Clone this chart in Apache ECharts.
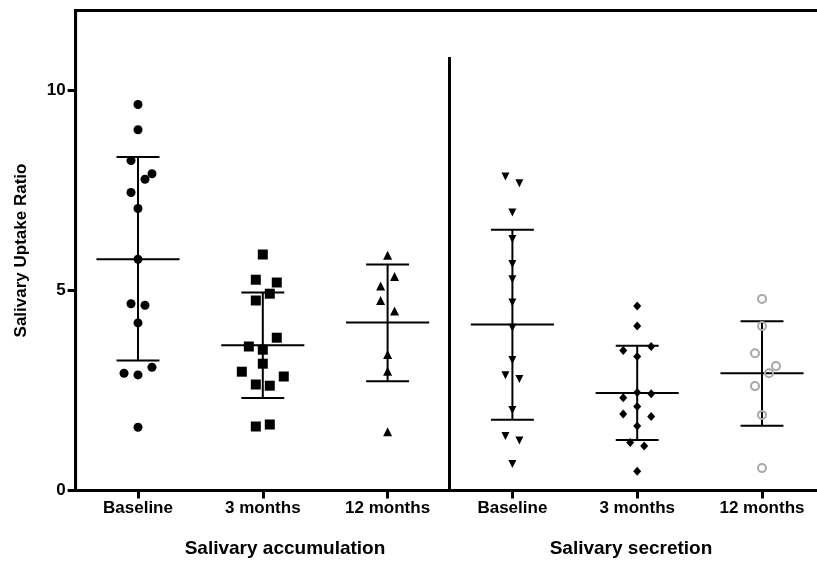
<!DOCTYPE html>
<html>
<head>
<meta charset="utf-8">
<script src="https://cdn.jsdelivr.net/npm/echarts@6/dist/echarts.min.js"></script>
<style>
html,body{margin:0;padding:0;background:#fff;}
#main{width:817px;height:561px;}
</style>
</head>
<body>
<div id="main"></div>
<script>
// ---------- data ----------
const categories = ['Baseline', '3 months', '12 months', 'Baseline', '3 months', '12 months'];
const groupTitles = ['Salivary accumulation', 'Salivary secretion'];
const yTitle = 'Salivary Uptake Ratio';
const yTicks = [0, 5, 10];

// individual values (and their horizontal jitter slot, -3..3)
const accBaseline     = [9.65, 9.02, 8.25, 7.92, 7.78, 7.45, 7.05, 5.78, 4.67, 4.63, 4.19, 3.08, 2.93, 2.89, 1.58];
const accBaselineSlot = [0, 0, -1, 2, 1, -1, 0, 0, -1, 1, 0, 2, -2, 0, 0];
const acc3m           = [5.90, 5.27, 5.20, 4.92, 4.75, 3.82, 3.60, 3.52, 3.17, 2.97, 2.85, 2.65, 2.62, 1.65, 1.60];
const acc3mSlot       = [0, -1, 2, 1, -1, 2, -2, 0, 0, -3, 3, -1, 1, 1, -1];
const acc12m          = [5.88, 5.35, 5.11, 4.75, 4.49, 3.40, 2.98, 1.47];
const acc12mSlot      = [0, 1, -1, -1, 1, 0, 0, 0];
const secBaseline     = [7.85, 7.68, 6.95, 6.29, 5.66, 5.28, 4.70, 4.07, 3.26, 2.88, 2.79, 2.01, 1.36, 1.25, 0.66];
const secBaselineSlot = [-1, 1, 0, 0, 0, 0, 0, 0, 0, -1, 1, 0, -1, 1, 0];
const sec3m           = [4.61, 4.11, 3.60, 3.50, 3.35, 2.45, 2.42, 2.32, 2.10, 1.91, 1.85, 1.61, 1.20, 1.11, 0.48];
const sec3mSlot       = [0, 0, 2, -2, 0, 0, 2, -2, 0, -2, 2, 0, -1, 1, 0];
const sec12m          = [4.79, 4.11, 3.43, 3.11, 2.93, 2.61, 1.89, 0.56];
const sec12mSlot      = [0, 0, -1, 2, 1, -1, 0, 0];

// mean and SD bars
const means   = [5.78, 3.63, 4.20, 4.15, 2.44, 2.93];
const sdUpper = [8.34, 4.95, 5.65, 6.52, 3.62, 4.23];
const sdLower = [3.25, 2.31, 2.73, 1.77, 1.26, 1.62];

// divider between the two panels (x between groups, top value)
const dividerX = 3.49;
const dividerTop = 10.84;

// ---------- styling ----------
const FONT = "'Liberation Sans', Arial, Helvetica, sans-serif";
const JITTER = 0.056;      // category units per jitter slot
const MEAN_HALF = 0.333;   // half-width of mean line (category units)
const CAP_HALF = 0.172;    // half-width of SD caps

function pts(vals, slots, catIndex) {
  return vals.map((v, i) => [catIndex + 1 + slots[i] * JITTER, v]);
}

const groups = [
  { vals: accBaseline, slots: accBaselineSlot, symbol: 'circle', size: 9, filled: true },
  { vals: acc3m, slots: acc3mSlot, symbol: 'rect', size: 10, filled: true },
  { vals: acc12m, slots: acc12mSlot, symbol: 'triangle', size: 9, filled: true },
  { vals: secBaseline, slots: secBaselineSlot, symbol: 'triangle', size: 8, filled: true, rotate: 180 },
  { vals: sec3m, slots: sec3mSlot, symbol: 'diamond', size: [8, 9], filled: true },
  { vals: sec12m, slots: sec12mSlot, symbol: 'circle', size: 8, filled: false }
];

const scatterSeries = groups.map((g, i) => ({
  type: 'scatter',
  xAxisIndex: 1,
  yAxisIndex: 0,
  symbol: g.symbol,
  symbolSize: g.size,
  symbolRotate: g.rotate || 0,
  silent: true,
  z: 5,
  itemStyle: g.filled
    ? { color: '#000', opacity: 1 }
    : { color: 'rgba(0,0,0,0)', borderColor: '#a9a9a9', borderWidth: 2, opacity: 1 },
  data: pts(g.vals, g.slots, i)
}));

const barData = means.map((m, i) => [i + 1, m, sdLower[i], sdUpper[i]]);

const statSeries = {
  type: 'custom',
  xAxisIndex: 1,
  yAxisIndex: 0,
  silent: true,
  z: 3,
  data: barData,
  renderItem: function (params, api) {
    const x = api.value(0);
    const mean = api.coord([x, api.value(1)]);
    const lo = api.coord([x, api.value(2)]);
    const hi = api.coord([x, api.value(3)]);
    const mh = api.size([MEAN_HALF, 0])[0];
    const ch = api.size([CAP_HALF, 0])[0];
    const st = { stroke: '#000', lineWidth: 2 };
    return {
      type: 'group',
      children: [
        { type: 'line', shape: { x1: mean[0] - mh, y1: mean[1], x2: mean[0] + mh, y2: mean[1] }, style: st },
        { type: 'line', shape: { x1: lo[0], y1: lo[1], x2: hi[0], y2: hi[1] }, style: st },
        { type: 'line', shape: { x1: hi[0] - ch, y1: hi[1], x2: hi[0] + ch, y2: hi[1] }, style: st },
        { type: 'line', shape: { x1: lo[0] - ch, y1: lo[1], x2: lo[0] + ch, y2: lo[1] }, style: st }
      ]
    };
  },
  markLine: {
    silent: true,
    symbol: ['none', 'none'],
    label: { show: false },
    lineStyle: { color: '#000', width: 3, type: 'solid' },
    data: [[{ coord: [dividerX, 0] }, { coord: [dividerX, dividerTop] }]]
  }
};

const chart = echarts.init(document.getElementById('main'), null, { renderer: 'canvas' });

chart.setOption({
  animation: false,
  backgroundColor: '#fff',
  textStyle: { fontFamily: FONT },
  grid: {
    left: 75.6, top: 10.5, width: 748.8, height: 480,
    outerBoundsMode: 'none',
    containLabel: false,
    show: true, borderColor: '#000', borderWidth: 3, backgroundColor: 'rgba(0,0,0,0)'
  },
  xAxis: [
    {
      type: 'category',
      data: categories,
      boundaryGap: true,
      axisLine: { show: true, lineStyle: { color: '#000', width: 3 } },
      axisTick: { show: true, alignWithLabel: true, length: 8, lineStyle: { color: '#000', width: 3 } },
      axisLabel: { show: true, interval: 0, margin: 9, color: '#000', fontWeight: 'bold', fontSize: 17, fontFamily: FONT },
      splitLine: { show: false }
    },
    {
      type: 'value',
      min: 0.5, max: 6.5,
      show: false,
      splitLine: { show: false }
    }
  ],
  yAxis: [{
    type: 'value',
    min: 0, max: 12, interval: 5,
    name: yTitle,
    nameLocation: 'middle',
    nameRotate: 90,
    nameGap: 46,
    nameTextStyle: { color: '#000', fontWeight: 'bold', fontSize: 17, fontFamily: FONT },
    axisLine: { show: true, lineStyle: { color: '#000', width: 3 } },
    axisTick: { show: true, length: 8, customValues: yTicks, lineStyle: { color: '#000', width: 3 } },
    axisLabel: {
      show: true, margin: 10, color: '#000', fontWeight: 'bold', fontSize: 17, fontFamily: FONT,
      customValues: yTicks
    },
    splitLine: { show: false }
  }],
  graphic: [
    { type: 'text', x: 285, y: 549, style: { text: groupTitles[0], fill: '#000', font: "bold 19px " + FONT, textAlign: 'center', textVerticalAlign: 'middle' } },
    { type: 'text', x: 631, y: 549, style: { text: groupTitles[1], fill: '#000', font: "bold 19px " + FONT, textAlign: 'center', textVerticalAlign: 'middle' } }
  ],
  series: [statSeries].concat(scatterSeries)
});
</script>
</body>
</html>
